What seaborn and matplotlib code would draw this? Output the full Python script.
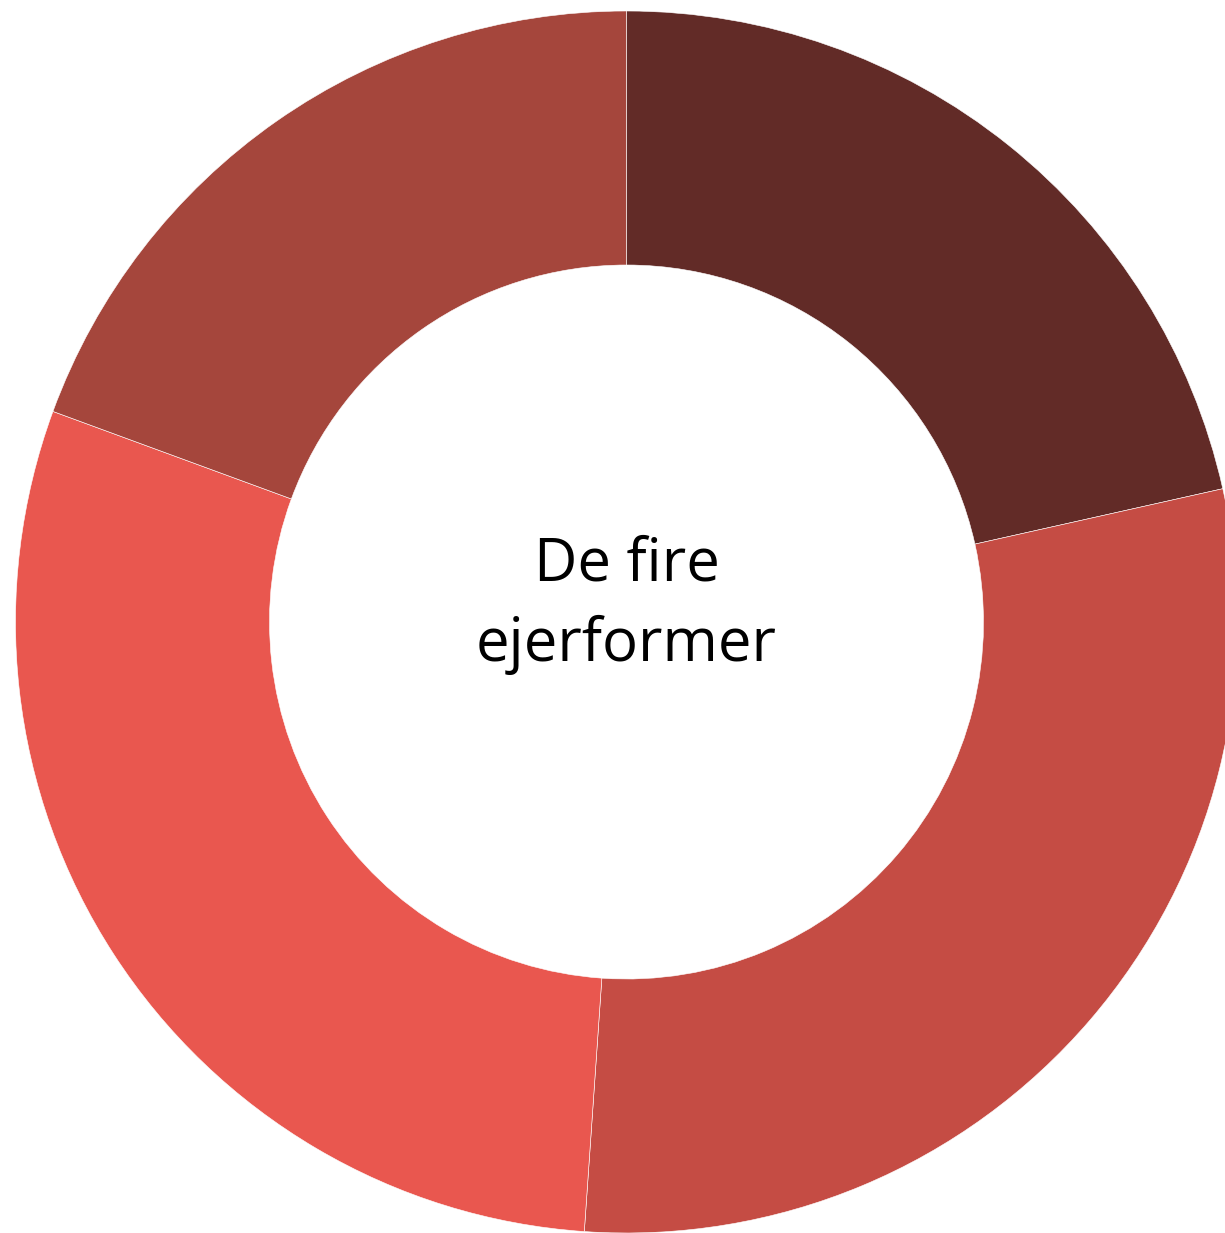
import matplotlib
matplotlib.use("Agg")
import matplotlib.pyplot as plt
import seaborn as sns

# andele for de fire ejerformer (aflæst fra figuren, i %)
segments = ["A", "B", "C", "D"]
shares = [21.5, 29.6, 29.5, 19.4]
colors = ["#622b27", "#c54c44", "#e9574f", "#a5463c"]
center_label = "De fire\nejerformer"

sns.set_theme(style="white")
plt.rcParams['font.family'] = ['Open Sans', 'DejaVu Sans']

W, H = 1225, 1233
cx, cy, R = 626.5, 622.0, 611.0

fig = plt.figure(figsize=(W / 100, H / 100), dpi=100)
ax = fig.add_axes([0, 0, 1, 1])

ax.pie(shares, colors=colors, startangle=90, counterclock=False,
       radius=1.0, wedgeprops=dict(width=(611 - 357) / 611,
                                   edgecolor="white", linewidth=0.4))

ax.text(0, (cy - 605) / R, center_label, ha="center", va="center",
        fontsize=43, linespacing=1.45, color="black")

ax.set_aspect("auto")
ax.set_xlim(-cx / R, (W - cx) / R)
ax.set_ylim(-(H - cy) / R, cy / R)
ax.axis("off")

fig.savefig("out.png", dpi=100, facecolor="white")
